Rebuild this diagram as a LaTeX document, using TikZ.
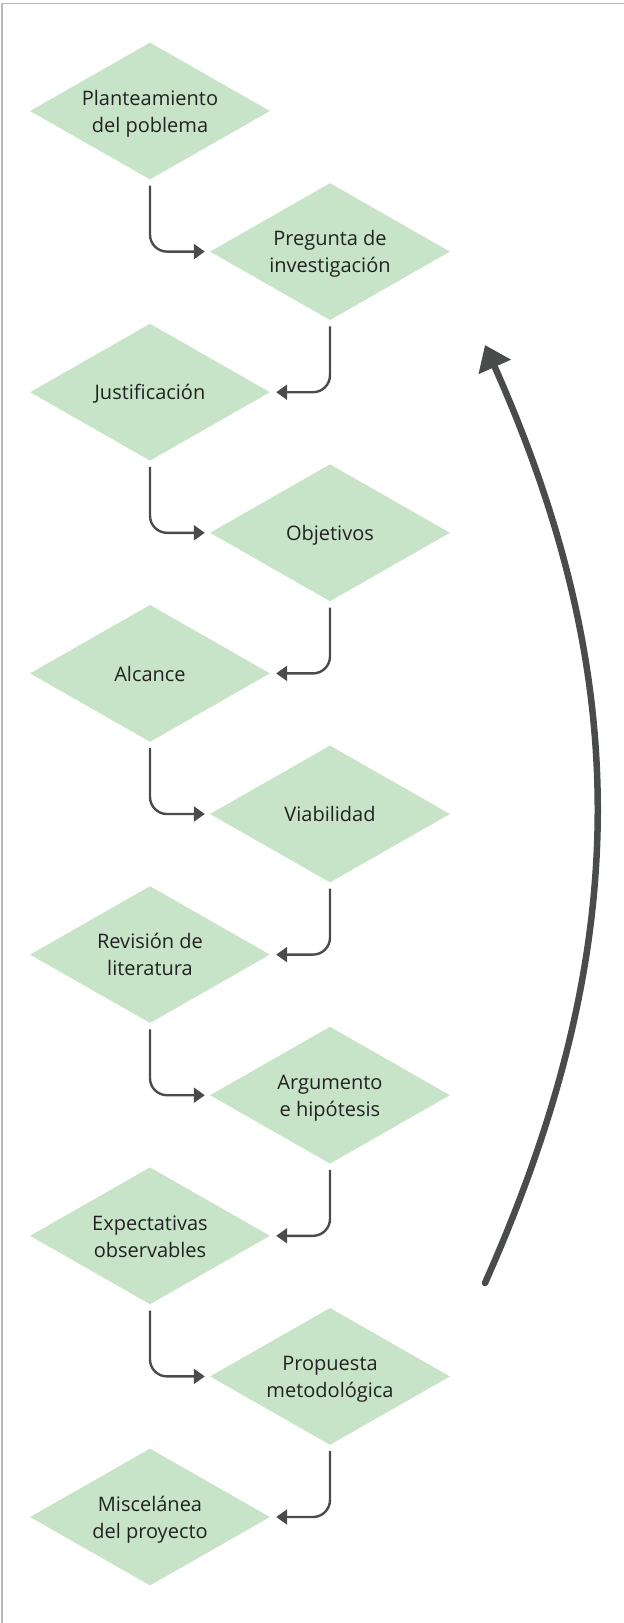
\documentclass[tikz,border=0pt]{standalone}
\usepackage{fontspec}
\setmainfont{Open Sans}
\usetikzlibrary{shapes.geometric,arrows.meta}
\definecolor{boxgreen}{HTML}{C8E4C8}
\definecolor{linegray}{HTML}{4A4C4C}
\definecolor{textdark}{HTML}{222222}
\definecolor{framegray}{HTML}{B8B8B8}
% line boxes as tall as the font's ascent and descent
\newcommand{\strtop}{\rule{0pt}{21.4pt}}
\newcommand{\strbot}{\rule[-5.9pt]{0pt}{5.9pt}}
\begin{document}
\begin{tikzpicture}[x=1pt, y=1pt, node distance=140.6pt]
\tikzstyle{decision} = [diamond, aspect=1.75, minimum width=240pt, minimum height=137pt, inner sep=0pt, fill=boxgreen, text=textdark, align=center, font=\fontsize{20}{27}\selectfont]
\tikzstyle{arrow} = [line width=2.4pt, draw=linegray, rounded corners=17pt, -{Triangle[length=11pt,width=15pt]}]
\tikzstyle{loop} = [line width=6.5pt, draw=linegray, line cap=round, -{Triangle[length=24pt,width=34pt]}]
%
\useasboundingbox (0,0) rectangle (624,-1623);
\draw [framegray, line width=1.5pt] (624,-3.5) -- (2,-3.5) -- (2,-1623);
%
\node (planteamiento) [decision] at (150,-111) {\strtop Planteamiento\\del poblema\strbot};
\node (pregunta) [decision, below of=planteamiento, xshift=180pt] {\strtop Pregunta de\\investigación\strbot};
\node (justificacion) [decision, below of=pregunta, xshift=-180pt] {\strtop Justificación\strbot};
\node (objetivos) [decision, below of=justificacion, xshift=180pt] {\strtop Objetivos\strbot};
\node (alcance) [decision, below of=objetivos, xshift=-180pt] {\strtop Alcance\strbot};
\node (viabilidad) [decision, below of=alcance, xshift=180pt] {\strtop Viabilidad\strbot};
\node (revision) [decision, below of=viabilidad, xshift=-180pt] {\strtop Revisión de\\literatura\strbot};
\node (argumento) [decision, below of=revision, xshift=180pt] {\strtop Argumento\\e hipótesis\strbot};
\node (expectativas) [decision, below of=argumento, xshift=-180pt] {\strtop Expectativas\\observables\strbot};
\node (propuesta) [decision, below of=expectativas, xshift=180pt] {\strtop Propuesta\\metodológica\strbot};
\node (miscelanea) [decision, below of=propuesta, xshift=-180pt] {\strtop Miscelánea\\del proyecto\strbot};
%
\draw [arrow] ([yshift=-6pt]planteamiento.south) |- ([xshift=-5pt]pregunta.west);
\draw [arrow] ([yshift=-6pt]pregunta.south) |- ([xshift=6pt]justificacion.east);
\draw [arrow] ([yshift=-6pt]justificacion.south) |- ([xshift=-5pt]objetivos.west);
\draw [arrow] ([yshift=-6pt]objetivos.south) |- ([xshift=6pt]alcance.east);
\draw [arrow] ([yshift=-6pt]alcance.south) |- ([xshift=-5pt]viabilidad.west);
\draw [arrow] ([yshift=-6pt]viabilidad.south) |- ([xshift=6pt]revision.east);
\draw [arrow] ([yshift=-6pt]revision.south) |- ([xshift=-5pt]argumento.west);
\draw [arrow] ([yshift=-6pt]argumento.south) |- ([xshift=6pt]expectativas.east);
\draw [arrow] ([yshift=-6pt]expectativas.south) |- ([xshift=-5pt]propuesta.west);
\draw [arrow] ([yshift=-6pt]propuesta.south) |- ([xshift=6pt]miscelanea.east);
%
\coordinate (loopstart) at (485,-1283);
\coordinate (loopend) at (485,-345);
\draw [loop] (loopstart) to[bend right=24] (loopend);
\end{tikzpicture}
\end{document}
